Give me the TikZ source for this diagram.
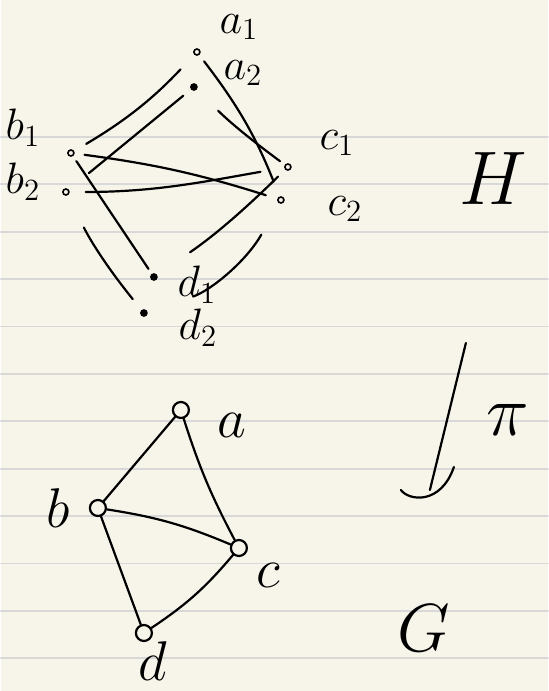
\documentclass[tikz,border=0pt]{standalone}
\usepackage{fix-cm}
\definecolor{paper}{HTML}{F7F5EA}
\definecolor{ruling}{HTML}{D8D8D8}
\begin{document}
\begin{tikzpicture}[x=0.5pt,y=0.5pt,line width=1.1pt,line cap=round,
  hv/.style={circle,draw,inner sep=0pt,minimum size=3pt,line width=0.8pt},
  hd/.style={hv,fill},
  gv/.style={circle,draw,inner sep=0pt,minimum size=8pt},
  hl/.style={font=\fontsize{22}{26}\selectfont},
  gl/.style={font=\fontsize{28}{32}\selectfont}]
  % paper
  \fill[paper] (0,0) rectangle (547,691);
  \foreach \k in {0,...,11}
    \draw[ruling,line width=0.9pt] (0,{554-47.4*\k}) -- (547,{554-47.4*\k});
  \useasboundingbox (0,0) rectangle (547,691);
  % H
  \node[hv] (a1) at (196,639) {};
  \node[hd] (a2) at (193,604) {};
  \node[hv] (b1) at (70,538) {};
  \node[hv] (b2) at (65,499) {};
  \node[hv] (c1) at (287,524) {};
  \node[hv] (c2) at (280,491) {};
  \node[hd] (d1) at (153,414) {};
  \node[hd] (d2) at (143,378) {};
  \node[hl] (la1) at (238,664) {$a_1$};
  \node[hl] (la2) at (242,618) {$a_2$};
  \node[hl] (lb1) at (22,563) {$b_1$};
  \node[hl] (lb2) at (22,509) {$b_2$};
  \node[hl] (lc1) at (336,548) {$c_1$};
  \node[hl] (lc2) at (344,482) {$c_2$};
  \node[hl] (ld1) at (196,406) {$d_1$};
  \node[hl] (ld2) at (197,363) {$d_2$};
  \node[font=\fontsize{38}{42}\selectfont] (H) at (492,512) {$H$};
  \draw[shorten <=10pt,shorten >=7pt] (a1) to[bend left=8] (b1);
  \draw[shorten <=5pt,shorten >=13pt] (a2) -- (b2);
  \draw[shorten <=4pt,shorten >=8pt] (a1) to[bend left=8] (c2);
  \draw[shorten <=15pt,shorten >=3pt] (a2) to[bend right=4] (c1);
  \draw[shorten <=5pt,shorten >=6pt] (b1) to[bend left=5] (c2);
  \draw[shorten <=8pt,shorten >=12pt] (b2) to[out=0,in=190] (c1);
  \draw[shorten <=3pt,shorten >=3pt] (b1) -- (d1);
  \draw[shorten <=18pt,shorten >=7pt] (b2) to[bend right=6] (d2);
  \draw[shorten <=5pt,shorten >=20pt] (c1) to[bend left=5] (d1);
  \draw[shorten <=18pt,shorten >=24pt] (c2) to[bend left=21] (d2);
  % projection
  \coordinate (top) at (465,348);
  \coordinate (tip) at (429,201);
  \draw (top) -- (tip);
  \draw (400,201) .. controls (408,190) and (440,186) .. (453,224);
  \node[font=\fontsize{36}{40}\selectfont] (pi) at (507,271) {$\pi$};
  % G
  \node[gv] (a) at (180,281) {};
  \node[gv] (b) at (97,183) {};
  \node[gv] (c) at (238,143) {};
  \node[gv] (d) at (143,58) {};
  \node[gl] (la) at (231,266) {$a$};
  \node[gl] (lb) at (57,183) {$b$};
  \node[gl] (lc) at (267,116) {$c$};
  \node[gl] (ld) at (152,30) {$d$};
  \node[font=\fontsize{34}{38}\selectfont] (G) at (423,63) {$G$};
  \draw (a) -- (b);
  \draw (a) to[bend right=5] (c);
  \draw (b) to[bend left=7] (c);
  \draw (b) -- (d);
  \draw (d) to[bend right=8] (c);
\end{tikzpicture}
\end{document}
